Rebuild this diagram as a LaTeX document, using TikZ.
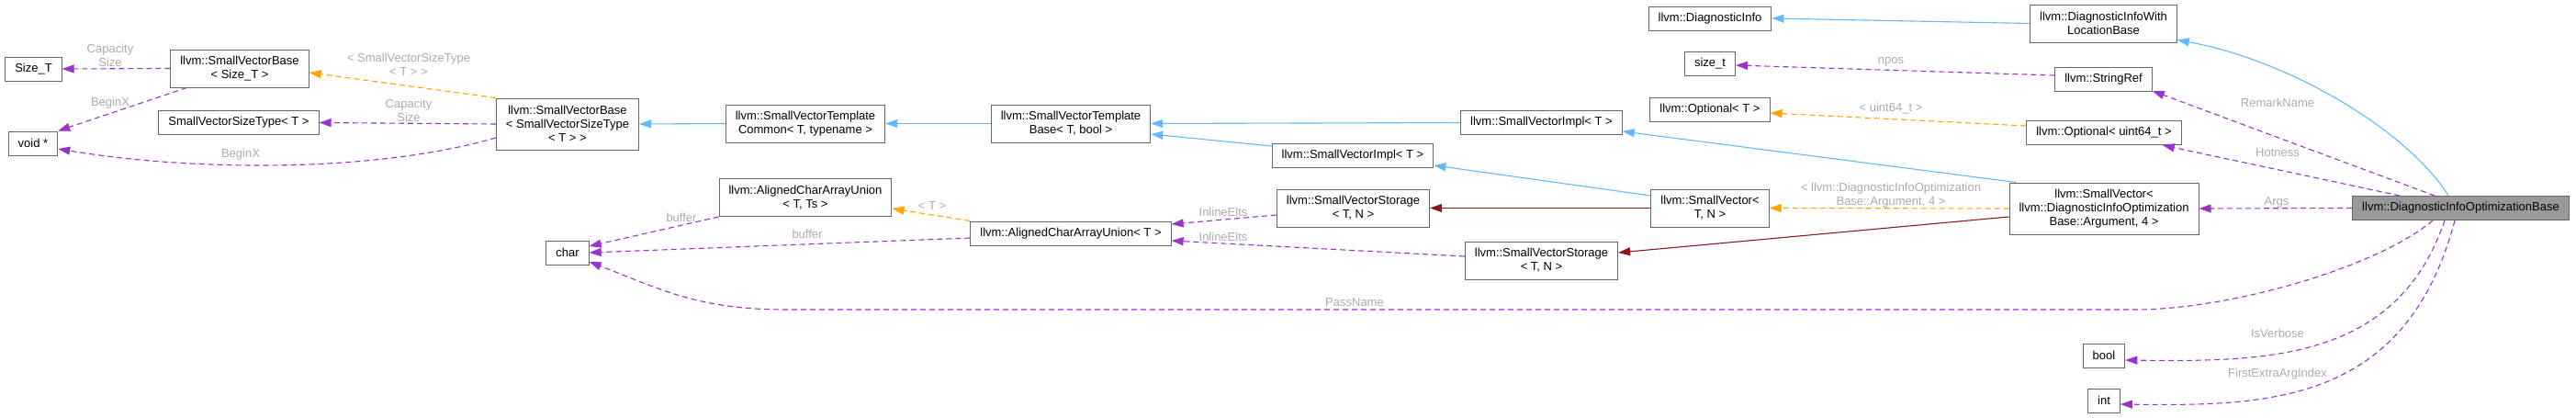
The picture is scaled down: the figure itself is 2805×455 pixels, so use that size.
\documentclass[tikz,border=0pt]{standalone}
\usepackage{fontspec}
\setmainfont{Liberation Sans}
\usetikzlibrary{arrows.meta}
\definecolor{edgeblue}{HTML}{63B8FF}
\definecolor{edgepurple}{HTML}{9A32CD}
\definecolor{edgeorange}{HTML}{FFA500}
\definecolor{edgered}{HTML}{8B1A1A}
\definecolor{boxgray}{HTML}{666666}
\definecolor{mainfill}{HTML}{999999}
\definecolor{lblgray}{HTML}{ABABAB}
\tikzset{
  cls/.style={draw=boxgray, line width=1pt, fill=white, font=\fontsize{13}{15}\selectfont, inner xsep=10.5pt, inner ysep=0pt, minimum height=26pt, align=center},
  cls2/.style={cls, minimum height=41pt},
  cls3/.style={cls, minimum height=56pt},
  lbl/.style={font=\fontsize{13}{15}\selectfont, text=lblgray, align=center, inner sep=0pt},
  headtip/.style={-{Triangle[length=13pt,width=9pt]}},
  inherit/.style={headtip, draw=edgeblue, line width=1.1pt},
  member/.style={headtip, draw=edgepurple, line width=1.1pt, dash pattern=on 6pt off 4pt},
  templ/.style={headtip, draw=edgeorange, line width=1.1pt, dash pattern=on 6pt off 4pt},
  inst/.style={headtip, draw=edgered, line width=1.1pt},
}
\begin{document}
\begin{tikzpicture}[x=1pt, y=-1pt]
\useasboundingbox (0,0) rectangle (2805,455);
\node[cls] (sizeT) at (36.5,75) {Size\_T};
\node[cls2] (svbsizet) at (261,74.5) {llvm::SmallVectorBase\\< Size\_T >};
\node[cls] (svst) at (260,133.5) {SmallVectorSizeType< T >};
\node[cls] (voidp) at (36,156) {void *};
\node[cls3] (svbsvst) at (618,135) {llvm::SmallVectorBase\\< SmallVectorSizeType\\< T > >};
\node[cls2] (svtc) at (877,134.5) {llvm::SmallVectorTemplate\\Common< T, typename >};
\node[cls2] (svtb) at (1166,134.5) {llvm::SmallVectorTemplate\\Base< T, bool >};
\node[cls2] (acauts) at (877,215) {llvm::AlignedCharArrayUnion\\< T, Ts >};
\node[cls] (acaut) at (1166,254) {llvm::AlignedCharArrayUnion< T >};
\node[cls] (char) at (618,275) {char};
\node[cls] (svimpla) at (1678.5,133.5) {llvm::SmallVectorImpl< T >};
\node[cls] (svimplb) at (1473,169) {llvm::SmallVectorImpl< T >};
\node[cls2] (svstora) at (1473.5,226.5) {llvm::SmallVectorStorage\\< T, N >};
\node[cls2] (svstorb) at (1678.5,283.5) {llvm::SmallVectorStorage\\< T, N >};
\node[cls2] (svtn) at (1862,226.5) {llvm::SmallVector<\\T, N >};
\node[cls] (diaginfo) at (1862,20) {llvm::DiagnosticInfo};
\node[cls] (sizet) at (1862,69.5) {size\_t};
\node[cls] (optt) at (1862,119) {llvm::Optional< T >};
\node[cls2] (diwlb) at (2290.5,25.5) {llvm::DiagnosticInfoWith\\LocationBase};
\node[cls] (strref) at (2290.5,86.5) {llvm::StringRef};
\node[cls] (optu) at (2291,144.5) {llvm::Optional< uint64\_t >};
\node[cls3] (svarg) at (2291,227) {llvm::SmallVector<\\llvm::DiagnosticInfoOptimization\\Base::Argument, 4 >};
\node[cls] (bool) at (2291,387) {bool};
\node[cls] (int) at (2291,436) {int};
\node[cls, fill=mainfill] (main) at (2679.5,226.5) {llvm::DiagnosticInfoOptimizationBase};
\draw[inherit] (svtc.west) -- (svbsvst.east);
\draw[inherit] (svtb.west) -- (svtc.east);
\draw[inherit] (svimpla.west) -- (svtb.east);
\draw[inherit] ([yshift=10pt]svimplb.west) -- ([yshift=-11.5pt]svtb.east);
\draw[inherit] ([yshift=13.5pt]svtn.west) -- ([yshift=-11pt]svimplb.east);
\draw[inherit] ([xshift=8pt]svarg.north west) -- ([yshift=-9.5pt]svimpla.east);
\draw[inherit] (diwlb.west) -- (diaginfo.east);
\draw[inherit] ([xshift=-13.5pt]main.north) .. controls (2620,140) and (2490,65) .. ([yshift=3pt]diwlb.south east);
\draw[inst] (svtn.west) -- (svstora.east);
\draw[inst] ([yshift=-9pt]svarg.west) -- ([yshift=8.5pt]svstorb.east);
\draw[templ] (svbsvst.north west) -- ([yshift=-4.5pt]svbsizet.east);
\draw[templ] (acaut.north west) -- ([yshift=-12pt]acauts.east);
\draw[templ] (svarg.west) -- (svtn.east);
\draw[templ] ([yshift=7.5pt]optu.west) -- ([yshift=-4pt]optt.east);
\draw[member] (svbsizet.west) -- (sizeT.east);
\draw[member] ([xshift=18pt]svbsizet.south west) -- (voidp.north east);
\draw[member] (svbsvst.west) -- (svst.east);
\draw[member] ([yshift=-15pt]svbsvst.west) .. controls (400,190) and (200,185) .. ([yshift=-6pt]voidp.east);
\draw[member] (acauts.south west) -- ([yshift=7pt]char.east);
\draw[member] ([yshift=-5pt]acaut.west) -- (char.east);
\draw[member] ([yshift=-7.5pt]svstora.west) -- ([yshift=10pt]acaut.east);
\draw[member] ([yshift=4.5pt]svstorb.west) -- ([yshift=-8pt]acaut.east);
\draw[member] ([yshift=4.5pt]strref.west) -- ([yshift=-1.5pt]sizet.east);
\draw[member] ([xshift=-28.5pt]main.north) -- ([yshift=1pt]strref.south east);
\draw[member] ([xshift=-66.5pt]main.north) -- ([xshift=-21pt]optu.south east);
\draw[member] (main.west) -- (svarg.east);
\draw[member] ([xshift=-30.5pt]main.south) .. controls (2590,290) and (2430,337) .. (2325,337) -- (856,337) .. controls (760,337) and (720,315) .. ([yshift=-10pt]char.east);
\draw[member] ([xshift=-17.5pt]main.south) .. controls (2610,392) and (2470,394) .. ([yshift=-5pt]bool.east);
\draw[member] ([xshift=-6.5pt]main.south) .. controls (2620,440) and (2470,442) .. ([yshift=-4pt]int.east);
\node[lbl] (lcap1) at (120,60) {Capacity\\Size};
\node[lbl] (lbeg1) at (120,112) {BeginX};
\node[lbl] (ltsvst) at (445,70.5) {< SmallVectorSizeType\\< T > >};
\node[lbl] (lcap2) at (445,120) {Capacity\\Size};
\node[lbl] (lbeg2) at (262,168) {BeginX};
\node[lbl] (lbuf1) at (742,237) {buffer};
\node[lbl] (lbuf2) at (879,255) {buffer};
\node[lbl] (lt) at (1015,224) {< T >};
\node[lbl] (linl1) at (1332,231) {InlineElts};
\node[lbl] (linl2) at (1332,258) {InlineElts};
\node[lbl] (lpass) at (1475,329) {PassName};
\node[lbl] (lnpos) at (2059,67) {npos};
\node[lbl] (luint) at (2059,118) {< uint64\_t >};
\node[lbl] (larg) at (2059,212.5) {< llvm::DiagnosticInfoOptimization\\Base::Argument, 4 >};
\node[lbl] (lremark) at (2480,112) {RemarkName};
\node[lbl] (lhot) at (2480,166) {Hotness};
\node[lbl] (largs) at (2479,220) {Args};
\node[lbl] (lverb) at (2480,363) {IsVerbose};
\node[lbl] (lfirst) at (2480,407) {FirstExtraArgIndex};
\end{tikzpicture}
\end{document}
